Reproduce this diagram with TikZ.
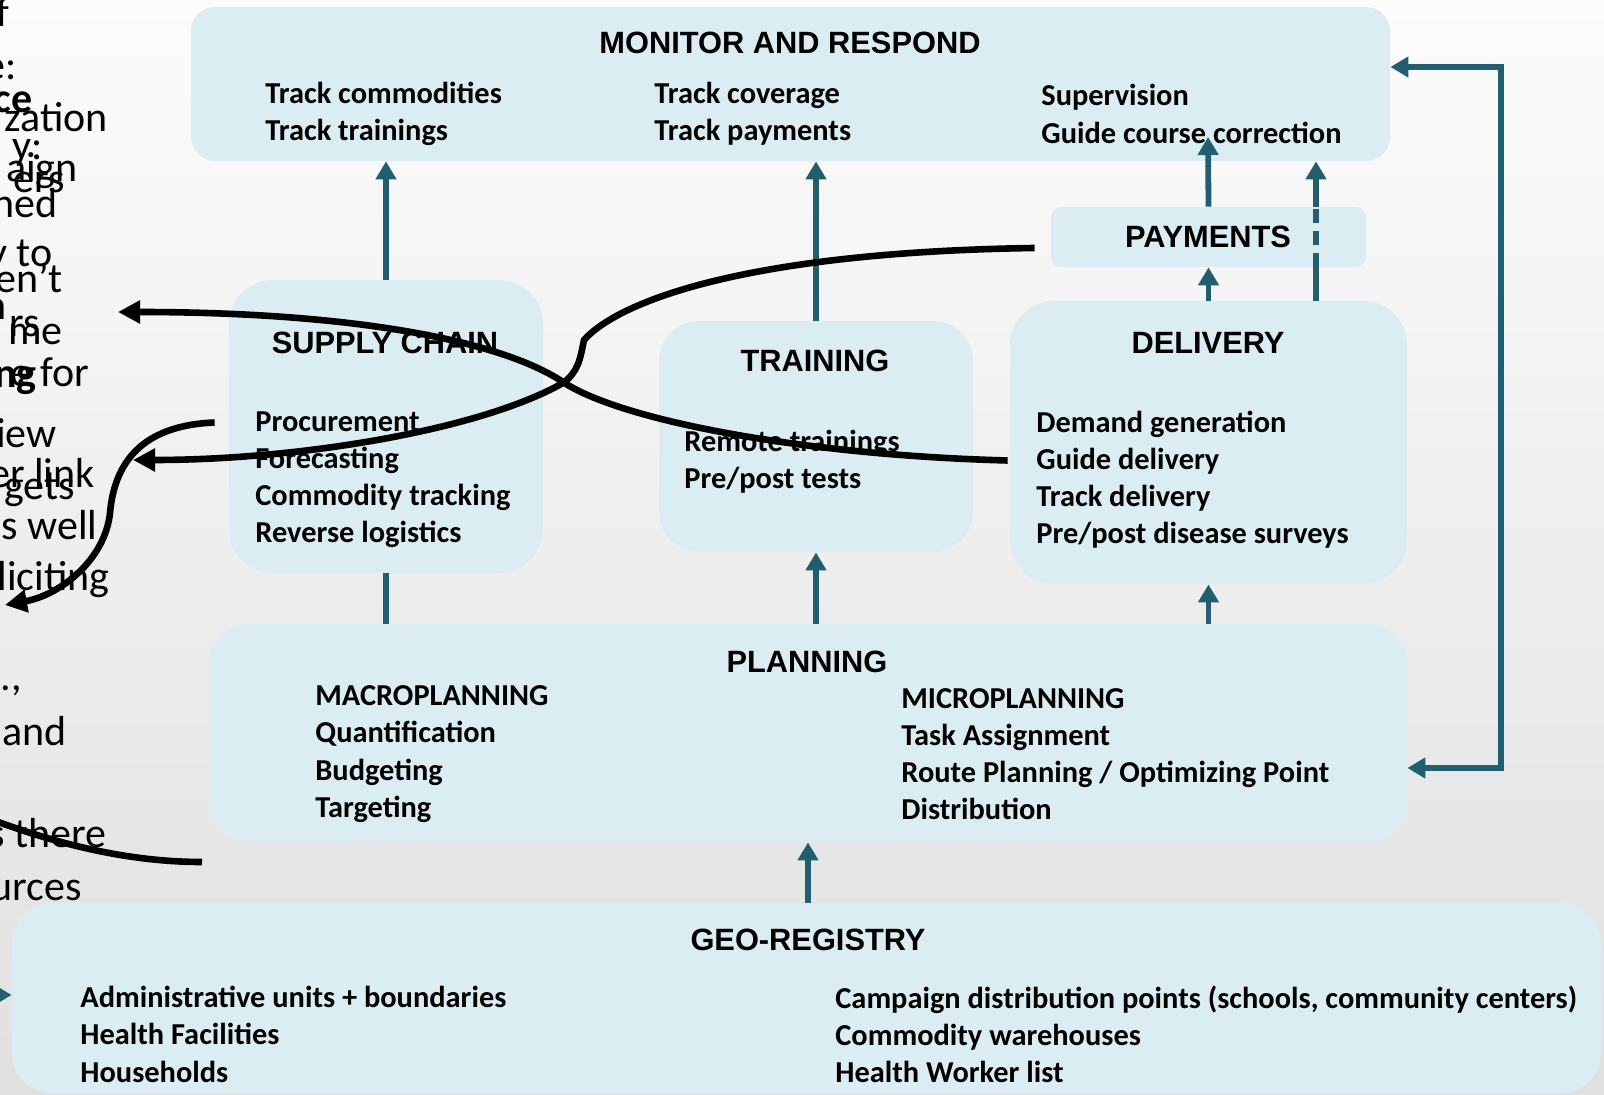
\documentclass[tikz,border=0pt]{standalone}
\usepackage{fontspec}
\setmainfont{Carlito}
\newfontfamily\headfont{Liberation Sans}
\usetikzlibrary{arrows.meta,calc}
\definecolor{boxfill}{HTML}{DBEDF3}
\definecolor{flowteal}{HTML}{215E6E}
\definecolor{bgtop}{HTML}{FCFCFC}
\definecolor{bgbottom}{HTML}{E0E0E0}

\begin{document}
\begin{tikzpicture}[x=0.5pt,y=-0.5pt,
  panel/.style={fill=boxfill, draw=none, inner sep=0pt, rounded corners=#1},
  head/.style={font=\headfont\bfseries\fontsize{15.4}{18}\selectfont, inner sep=0pt},
  items/.style={font=\bfseries\fontsize{15.2}{18.6}\selectfont, align=left, anchor=west, inner sep=0pt, yshift=-1.2pt},
  flow/.style={draw=flowteal, line width=2.9pt, -{Triangle[length=9pt,width=10pt]}},
  link/.style={draw=flowteal, line width=2.9pt},
  ink/.style={draw=black, line width=3.3pt, -{Triangle[length=11pt,width=11pt]}},
  inkline/.style={draw=black, line width=3.3pt},
  frag/.style={font=\fontsize{21}{25}\selectfont, anchor=base east, inner sep=0pt},
  fragb/.style={frag, font=\bfseries\fontsize{21}{25}\selectfont}]

% page and background
\useasboundingbox (0,0) rectangle (1604,1095);
\shade[top color=bgtop, bottom color=bgbottom] (0,0) rectangle (1604,1095);

% text running in from the left margin
\node[frag] (f1)  at (10,27)   {f};
\node[frag] (f2)  at (17,80)   {e:};
\node[fragb] (f3) at (33,113)  {ce};
\node[frag] (f4)  at (108,132) {zation};
\node[frag] (f5)  at (43,160)  {y:};
\node[frag] (f6)  at (78,182)  {aign};
\node[frag] (f7)  at (65,193)  {ers};
\node[frag] (f8)  at (58,218)  {ned};
\node[frag] (f9)  at (53,267)  {y to};
\node[frag] (f10) at (63,293)  {en’t};
\node[fragb] (f11) at (7,320)  {a};
\node[frag] (f12) at (40,337)  {rs};
\node[frag] (f13) at (63,345)  {me};
\node[frag] (f14) at (90,387)  {e for};
\node[fragb] (f15) at (37,388) {ng};
\node[frag] (f16) at (57,448)  {iew};
\node[frag] (f17) at (95,488)  {er link};
\node[frag] (f18) at (75,500)  {gets};
\node[frag] (f19) at (98,540)  {s well};
\node[frag] (f20) at (110,590) {liciting};
\node[frag] (f21) at (22,690)  {.,};
\node[frag] (f22) at (67,745)  {and};
\node[frag] (f23) at (107,847) {s there};
\node[frag] (f24) at (82,900)  {urces};

% panels
\node[panel=12pt, minimum width=599.5pt, minimum height=77pt]  (mon) at (790.5,84) {};
\node[panel=22pt, minimum width=157pt,   minimum height=146.5pt] (sup) at (386,426.5) {};
\node[panel=20pt, minimum width=157pt,   minimum height=115.5pt] (trn) at (816,436.5) {};
\node[panel=22pt, minimum width=198.5pt, minimum height=141.5pt] (del) at (1208.5,442.5) {};
\node[panel=5pt,  minimum width=157.5pt, minimum height=30pt]  (pay) at (1208.5,237) {};
\node[panel=20pt, minimum width=599pt,   minimum height=109pt] (pln) at (808,733) {};
\node[panel=20pt, minimum width=794.5pt, minimum height=95pt]  (geo) at (806.5,998) {};

% headings
\node[head] (monh) at (790,43)  {MONITOR AND RESPOND};
\node[head] (suph) at (385,343) {SUPPLY CHAIN};
\node[head] (trnh) at (815,361) {TRAINING};
\node[head] (delh) at (1208,343) {DELIVERY};
\node[head] (payh) at (1208,237) {PAYMENTS};
\node[head] (plnh) at (807,662) {PLANNING};
\node[head] (geoh) at (808,940) {GEO-REGISTRY};

% panel contents
\node[items] (mon1) at (265,111.5)  {Track commodities\\Track trainings};
\node[items] (mon2) at (654,111.5)  {Track coverage\\Track payments};
\node[items] (mon3) at (1041,111.5) {Supervision\\Guide course correction};
\node[items] (sup1) at (255,477.5)  {Procurement\\Forecasting\\Commodity tracking\\Reverse logistics};
\node[items] (trn1) at (684,459.5)  {Remote trainings\\Pre/post tests};
\node[items] (del1) at (1036,477.5) {Demand generation\\Guide delivery\\Track delivery\\Pre/post disease surveys};
\node[items] (pln1) at (315,751.75) {MACROPLANNING\\Quantification\\Budgeting\\Targeting};
\node[items] (pln2) at (901,751.75) {MICROPLANNING\\Task Assignment\\Route Planning / Optimizing Point\\Distribution};
\node[items] (geo1) at (80,1032)    {Administrative units + boundaries\\Health Facilities\\Households};
\node[items] (geo2) at (835,1032)   {Campaign distribution points (schools, community centers)\\Commodity warehouses\\Health Worker list};

% helper points
\coordinate (paytip) at (1208,137);
\coordinate (dashx) at (1316,0);
\coordinate (loopx) at (1501,0);
\coordinate (geoin) at (-20,995);

% flows between panels
\draw[flow] (sup.north) -- (sup.north |- mon.south);
\draw[link] (sup.south) -- (sup.south |- pln.north);
\draw[flow] (trn.north) -- (trn.north |- mon.south);
\draw[flow] (trn.south |- pln.north) -- (trn.south);
\draw[flow] (del.south |- pln.north) -- (del.south);
\draw[flow] (del.north) -- (pay.south);
\draw[flow] (pay.north) -- (paytip);
\draw[link] (dashx |- del.north) -- (dashx |- pay.south);
\draw[link, dash pattern=on 7pt off 4pt] (dashx |- pay.south) -- (dashx |- pay.north);
\draw[flow] (dashx |- pay.north) -- (dashx |- mon.south);
\draw[flow] (pln.south |- geo.north) -- (pln.south);
\draw[flow] (geoin) -- (geoin -| geo.west);
\draw[link, {Triangle[length=9pt,width=10pt]}-{Triangle[length=9pt,width=10pt]}]
  ([yshift=8.5pt]mon.east) -- ([yshift=8.5pt]mon.east -| loopx)
  -- ([yshift=-17.5pt]pln.east -| loopx) -- ([yshift=-17.5pt]pln.east);

% hand-drawn connectors
\draw[ink] (pay.west) ++(-8pt,-5.5pt) coordinate (inkA)
  .. controls (750,252) and (620,300) .. (584,340)
  .. controls (580,360) and (578,372) .. (563,383)
  .. controls (480,430) and (300,460) .. (133,460);
\draw[ink] (del.west) ++(-1pt,-9pt) coordinate (inkB)
  .. controls (800,455) and (620,420) .. (563,382)
  .. controls (500,340) and (350,312) .. (118,312);
\draw[ink] (sup.west) ++(-7pt,2pt) coordinate (inkC)
  .. controls (150,425) and (115,455) .. (110,513)
  .. controls (105,560) and (60,595) .. (5,605);
\coordinate (inkD) at (-10,819);
\draw[inkline] (inkD) .. controls (60,845) and (130,862) .. (202,862);

\end{tikzpicture}
\end{document}
